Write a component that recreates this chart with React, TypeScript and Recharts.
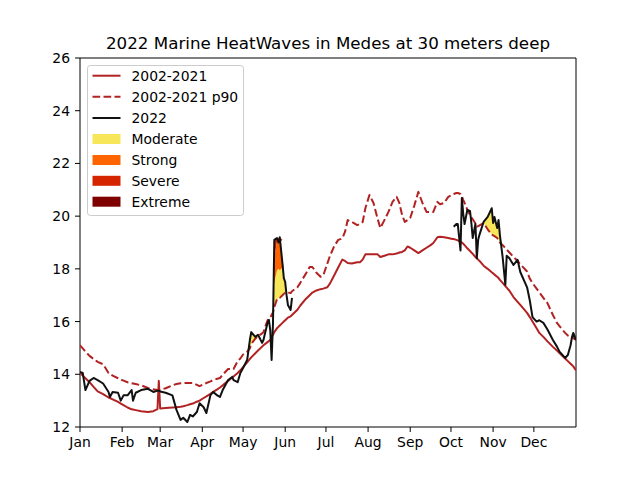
import React from 'react';
import { ComposedChart, Line, Area, XAxis, YAxis, ReferenceArea } from 'recharts';

// day of year (0 = 1 Jan)
const DAYS = [
  0, 2, 4, 7, 10, 13, 17, 21, 22, 24, 28, 30, 32, 35, 38, 39, 41, 45, 50, 54,
  57, 58, 59, 63, 68, 71, 74, 76, 79, 81, 83, 86, 88, 91, 93, 96, 98, 101, 103, 105,
  109, 112, 113, 116, 118, 120, 123, 125, 126, 129, 131, 134, 135, 138, 139, 140, 141, 142, 143, 145,
  146, 147, 149, 150, 151, 152, 153, 155, 156,
  160, 162, 166, 169, 171, 174, 177, 179, 182, 184, 187, 190, 193, 195, 197, 200, 204, 206, 208, 210,
  213, 216, 219, 221, 224, 227, 230, 233, 235, 237, 239, 241, 243, 246, 249, 252, 255, 258, 260, 263,
  265, 268, 271, 274,
  275, 277, 278, 280, 281, 282, 283, 285, 287, 288, 289, 291, 292, 293, 294, 297, 300, 303, 304, 305,
  307, 308, 309, 311, 313, 314, 316, 319, 322, 324, 329, 331, 333, 336, 338, 341, 344, 348, 351, 353,
  357, 359, 361, 362, 363, 365,
];

// 2002-2021 mean
const CLIM = [
  14.05, 13.95, 13.85, 13.7, 13.52, 13.35, 13.25, 13.12, 13.1, 13.05, 12.95, 12.89, 12.83, 12.74, 12.67, 12.66, 12.64, 12.6, 12.57, 12.6,
  12.68, 13.75, 12.7, 12.72, 12.74, 12.75, 12.77, 12.79, 12.83, 12.86, 12.89, 12.96, 13.0, 13.1, 13.16, 13.26, 13.33, 13.43, 13.5, 13.58,
  13.75, 13.88, 13.92, 14.05, 14.15, 14.27, 14.45, 14.58, 14.64, 14.8, 14.9, 15.05, 15.1, 15.22, 15.26, 15.3, 15.4, 15.5, 15.6, 15.75,
  15.8, 15.85, 15.95, 16.0, 16.05, 16.1, 16.15, 16.2, 16.25,
  16.45, 16.6, 16.85, 17.0, 17.1, 17.18, 17.23, 17.25, 17.3, 17.45, 17.75, 18.05, 18.35, 18.3, 18.22, 18.2, 18.25, 18.25, 18.35, 18.55,
  18.55, 18.55, 18.55, 18.45, 18.5, 18.55, 18.55, 18.58, 18.62, 18.64, 18.7, 18.85, 18.8, 18.7, 18.6, 18.7, 18.8, 18.9, 18.98, 19.2,
  19.22, 19.2, 19.17, 19.13,
  19.13, 19.1, 19.08, 19.02, 19.0, 18.95, 18.9, 18.78, 18.68, 18.62, 18.57, 18.45, 18.4, 18.35, 18.3, 18.12, 18.0, 17.87, 17.83, 17.78,
  17.7, 17.65, 17.58, 17.47, 17.35, 17.29, 17.17, 16.93, 16.75, 16.63, 16.33, 16.17, 16.0, 15.75, 15.57, 15.42, 15.25, 15.04, 14.9, 14.8,
  14.6, 14.5, 14.4, 14.35, 14.3, 14.15,
];

// 2002-2021 90th percentile
const P90 = [
  15.1, 14.98, 14.86, 14.7, 14.58, 14.47, 14.38, 14.05, 14.03, 13.95, 13.85, 13.8, 13.76, 13.7, 13.66, 13.65, 13.63, 13.58, 13.48, 13.43,
  13.4, 13.4, 13.41, 13.47, 13.58, 13.63, 13.66, 13.67, 13.67, 13.67, 13.67, 13.6, 13.55, 13.62, 13.67, 13.73, 13.78, 13.83, 13.86, 13.98,
  14.2, 14.2, 14.2, 14.5, 14.6, 14.75, 14.85, 14.98, 15.15, 15.35, 15.45, 15.55, 15.6, 16.05, 16.1, 16.15, 16.25, 16.35, 16.55, 16.85,
  16.9, 16.9, 17.0, 17.05, 17.1, 17.12, 17.1, 17.08, 17.15,
  17.3, 17.46, 17.8, 18.07, 18.07, 17.85, 17.7, 17.75, 18.2, 18.5, 18.85, 19.1, 19.15, 19.4, 19.85, 19.78, 19.66, 19.7, 19.78, 20.3,
  20.8, 20.5, 19.9, 19.55, 19.85, 20.16, 20.54, 20.73, 20.5, 20.05, 19.78, 19.85, 19.93, 20.4, 20.92, 20.5, 20.16, 20.15, 20.16, 20.54,
  20.45, 20.5, 20.73, 20.82,
  20.84, 20.88, 20.88, 20.84, 20.75, 20.62, 20.5, 20.25, 20.04, 19.95, 19.88, 19.72, 19.6, 19.62, 19.65, 19.74, 19.5, 19.3, 19.27, 19.24,
  19.17, 19.1, 19.0, 18.9, 18.79, 18.73, 18.62, 18.45, 18.3, 18.18, 17.9, 17.63, 17.46, 17.25, 17.11, 16.9, 16.7, 16.25, 15.95, 15.82,
  15.57, 15.47, 15.42, 15.4, 15.37, 15.3,
];

// 2022 (no data from mid June to early October)
const SST_2022 = [
  14.09, 14.05, 13.4, 13.75, 13.86, 13.78, 13.65, 13.33, 13.14, 13.33, 13.3, 13.0, 13.2, 13.2, 13.4, 13.0, 13.3, 13.4, 13.45, 13.33,
  13.38, 13.38, 13.35, 13.3, 13.2, 12.65, 12.27, 12.35, 12.19, 12.46, 12.4, 12.57, 12.9, 12.75, 12.53, 13.21, 13.33, 13.2, 13.14, 13.4,
  13.78, 13.9, 13.78, 13.7, 14.05, 14.24, 14.54, 15.3, 15.6, 15.42, 15.5, 15.19, 15.3, 15.95, 16.06, 15.68, 14.54, 15.9, 19.1, 19.17,
  19.0, 19.2, 18.2, 17.65, 17.5, 17.0, 16.63, 16.44, 16.9,
  null, null, null, null, null, null, null, null, null, null, null, null, null, null, null, null, null, null, null, null,
  null, null, null, null, null, null, null, null, null, null, null, null, null, null, null, null, null, null, null, null,
  null, null, null, null,
  19.6, 19.7, 19.7, 18.7, 20.69, 20.1, 19.7, 20.23, 20.2, 19.74, 19.17, 19.7, 18.4, 19.1, 19.3, 19.78, 19.97, 20.3, 19.74, 19.97,
  19.55, 19.85, 19.28, 18.45, 17.4, 18.5, 18.4, 18.15, 18.34, 17.88, 17.3, 16.8, 16.17, 16.0, 16.05, 15.95, 15.7, 15.3, 15.05, 14.85,
  14.62, 14.73, 15.1, 15.4, 15.57, 15.3,
];

const MONTH_TICKS = [0, 31, 59, 90, 120, 151, 181, 212, 243, 273, 304, 334];
const MONTH_LABELS = ['Jan', 'Feb', 'Mar', 'Apr', 'May', 'Jun', 'Jul', 'Aug', 'Sep', 'Oct', 'Nov', 'Dec'];
const TEMP_TICKS = [12, 14, 16, 18, 20, 22, 24, 26];

const CATEGORIES = ['Moderate', 'Strong', 'Severe', 'Extreme'];
const CATEGORY_COLORS = ['#f8e65a', '#ff6400', '#d42400', '#7f0000'];

const FONT = '"DejaVu Sans", sans-serif';

// band k spans p90 + k*d .. p90 + (k+1)*d, d = p90 - mean
function band(sst: number | null, p90: number, clim: number, k: number) {
  if (sst == null) return null;
  const d = Math.max(p90 - clim, 0);
  const lo = p90 + k * d;
  const top = Math.max(sst, lo);
  const hi = k === 3 ? top : Math.min(top, p90 + (k + 1) * d);
  return [lo, hi];
}

const data = DAYS.map((day, i) => {
  const row: any = { day, clim: CLIM[i], p90: P90[i], sst: SST_2022[i] };
  CATEGORIES.forEach((c, k) => {
    row[c] = band(SST_2022[i], P90[i], CLIM[i], k);
  });
  return row;
});

const tickStyle = { fontSize: 13.9, fill: '#000', fontFamily: FONT };

function LegendBox() {
  const rows = [75.7, 96.7, 118, 139, 160, 180.8, 201.7];
  const lines = [
    { label: '2002-2021', color: '#b22222', dash: undefined },
    { label: '2002-2021 p90', color: '#b22222', dash: '7.7 3.3' },
    { label: '2022', color: '#111', dash: undefined },
  ];
  return (
    <g fontFamily={FONT} fontSize={13.9}>
      <rect x={87.5} y={65.5} width={156} height={150} rx={2.8} fill="#fff" fillOpacity={0.8} stroke="#cccccc" />
      {lines.map((l, i) => (
        <g key={l.label}>
          <line x1={92.5} x2={120.5} y1={rows[i]} y2={rows[i]} stroke={l.color} strokeWidth={2} strokeDasharray={l.dash} />
          <text x={131.5} y={rows[i]} dominantBaseline="central">{l.label}</text>
        </g>
      ))}
      {CATEGORIES.map((c, k) => (
        <g key={c}>
          <rect x={92.5} y={rows[k + 3] - 5} width={28} height={10} fill={CATEGORY_COLORS[k]} />
          <text x={131.5} y={rows[k + 3]} dominantBaseline="central">{c}</text>
        </g>
      ))}
    </g>
  );
}

export default function App() {
  return (
    <div style={{ position: 'absolute', left: 0, top: 0, width: 640, height: 480, background: '#fff' }}>
      <ComposedChart width={640} height={480} data={data} margin={{ top: 58, right: 64, bottom: 0, left: 0 }}>
        <XAxis
          dataKey="day"
          type="number"
          domain={[0, 365]}
          ticks={MONTH_TICKS}
          tickFormatter={(v) => MONTH_LABELS[MONTH_TICKS.indexOf(v)]}
          allowDataOverflow
          height={53}
          tick={tickStyle}
          tickSize={5}
          tickMargin={5}
          axisLine={false}
          tickLine={{ stroke: '#000' }}
        />
        <YAxis
          type="number"
          domain={[12, 26]}
          ticks={TEMP_TICKS}
          allowDataOverflow
          width={80}
          tick={tickStyle}
          tickSize={5}
          tickMargin={5}
          axisLine={false}
          tickLine={{ stroke: '#000' }}
        />
        {CATEGORIES.map((c, k) => (
          <Area
            key={c}
            dataKey={c}
            type="linear"
            stroke="none"
            fill={CATEGORY_COLORS[k]}
            fillOpacity={1}
            isAnimationActive={false}
            dot={false}
            activeDot={false}
          />
        ))}
        <Line dataKey="clim" type="linear" stroke="#b22222" strokeWidth={2} strokeLinejoin="round" dot={false} activeDot={false} isAnimationActive={false} />
        <Line dataKey="p90" type="linear" stroke="#b22222" strokeWidth={2} strokeLinejoin="round" strokeDasharray="7.7 3.3" dot={false} activeDot={false} isAnimationActive={false} />
        <Line dataKey="sst" type="linear" stroke="#111" strokeWidth={2} strokeLinejoin="round" dot={false} activeDot={false} isAnimationActive={false} />
        <ReferenceArea x1={0} x2={365} y1={12} y2={26} fill="none" stroke="#000" strokeWidth={1} ifOverflow="visible" />
      </ComposedChart>
      <svg width={640} height={480} style={{ position: 'absolute', left: 0, top: 0, pointerEvents: 'none' }}>
        <text x={328} y={43} textAnchor="middle" dominantBaseline="central" fontFamily={FONT} fontSize={16.7}>
          2022 Marine HeatWaves in Medes at 30 meters deep
        </text>
        <LegendBox />
      </svg>
    </div>
  );
}
